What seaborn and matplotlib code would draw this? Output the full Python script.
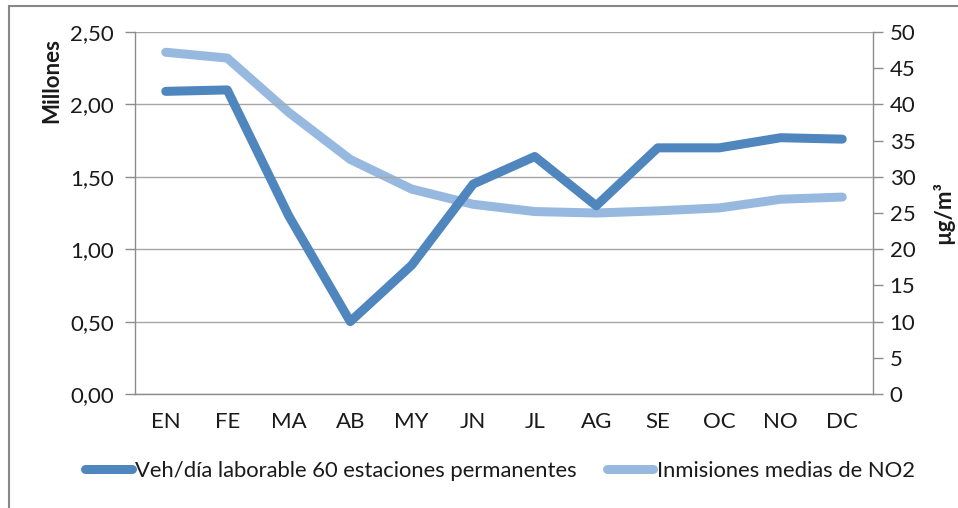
import matplotlib
matplotlib.use("Agg")
import matplotlib.pyplot as plt
from matplotlib.patches import Rectangle
from matplotlib.ticker import FixedLocator, FuncFormatter
import seaborn as sns
import pandas as pd

meses = ["EN", "FE", "MA", "AB", "MY", "JN", "JL", "AG", "SE", "OC", "NO", "DC"]
vehiculos = [2.09, 2.10, 1.23, 0.50, 0.89, 1.45, 1.64, 1.30, 1.70, 1.70, 1.77, 1.76]
no2 = [47.2, 46.4, 38.9, 32.4, 28.3, 26.2, 25.2, 25.0, 25.3, 25.7, 26.9, 27.2]

serie_veh = "Veh/día laborable 60 estaciones permanentes"
serie_no2 = "Inmisiones medias de NO2"

df = pd.DataFrame({"mes": meses, "veh": vehiculos, "no2": no2})
df["pos"] = range(len(meses))

sns.set_theme(style="white")
plt.rcParams["font.family"] = ["Lato", "DejaVu Sans"]

FS = 16
c_dark = "#4F86BD"
c_light = "#97B9E0"
c_axis = "#8C8C8C"
c_grid = "#A6A6A6"
c_text = "#1a1a1a"

fig = plt.figure(figsize=(9.58, 5.08), dpi=100)
ax = fig.add_axes([135 / 958, 1 - 394 / 508, (873 - 135) / 958, (394 - 32) / 508])
ax2 = ax.twinx()

sns.lineplot(data=df, x="pos", y="veh", ax=ax, color=c_dark, linewidth=6.5,
             solid_capstyle="round", solid_joinstyle="round", legend=False, zorder=3)
sns.lineplot(data=df, x="pos", y="no2", ax=ax2, color=c_light, linewidth=6.5,
             solid_capstyle="round", solid_joinstyle="round", legend=False, zorder=2)

ax.set_xlim(-0.5, len(meses) - 0.5)
ax.set_ylim(0, 2.5)
ax2.set_ylim(0, 50)

ax.set_yticks([0, 0.5, 1.0, 1.5, 2.0, 2.5])
ax.yaxis.set_major_formatter(FuncFormatter(lambda v, p: f"{v:.2f}".replace(".", ",")))
ax2.set_yticks(range(0, 51, 5))

ax.set_xticks(range(len(meses)))
ax.set_xticklabels(meses)
ax.xaxis.set_minor_locator(FixedLocator([i - 0.5 for i in range(len(meses) + 1)]))
ax.tick_params(axis="x", which="major", length=0, pad=13, labelsize=FS, colors=c_text)
ax.tick_params(axis="x", which="minor", length=6, width=1, color=c_axis, direction="out")
ax.tick_params(axis="y", length=7, width=1, color=c_axis, direction="out",
               labelsize=FS, labelcolor=c_text, pad=8, left=True)
ax2.tick_params(axis="y", length=7, width=1, color=c_axis, direction="out",
                labelsize=FS, labelcolor=c_text, pad=5, right=True)

ax.grid(axis="y", color=c_grid, linewidth=1)
ax.set_axisbelow(True)
ax.set_zorder(ax2.get_zorder() + 1)
ax.patch.set_visible(False)

for a in (ax, ax2):
    a.spines["top"].set_visible(False)
    for s in ("left", "right", "bottom"):
        a.spines[s].set_color(c_axis)
        a.spines[s].set_linewidth(1)
ax.spines["right"].set_visible(False)
ax2.spines["left"].set_visible(False)
ax2.spines["bottom"].set_visible(False)

ax.set_xlabel("")
ax.set_ylabel("Millones", fontsize=FS, fontweight="bold", color=c_text)
ax.yaxis.set_label_coords(-0.099, 0.865)
ax2.set_ylabel("µg/m³", fontsize=FS, fontweight="bold", color=c_text,
               rotation=90, labelpad=12)

handles = [plt.Line2D([], [], color=c_dark, linewidth=6.5, solid_capstyle="round"),
           plt.Line2D([], [], color=c_light, linewidth=6.5, solid_capstyle="round")]
fig.legend(handles, [serie_veh, serie_no2], loc="center", ncol=2,
           bbox_to_anchor=(500 / 958, 1 - 471 / 508), frameon=False, fontsize=15.8,
           handlelength=2.1, handletextpad=0.15, columnspacing=1.4,
           labelcolor=c_text)

fig.patches.append(Rectangle((9 / 958, -0.05), 1.05, 1 - 6 / 508 + 0.05,
                             transform=fig.transFigure, fill=False,
                             edgecolor="#888888", linewidth=1.5))

fig.savefig("out.png", dpi=100, facecolor="white")
